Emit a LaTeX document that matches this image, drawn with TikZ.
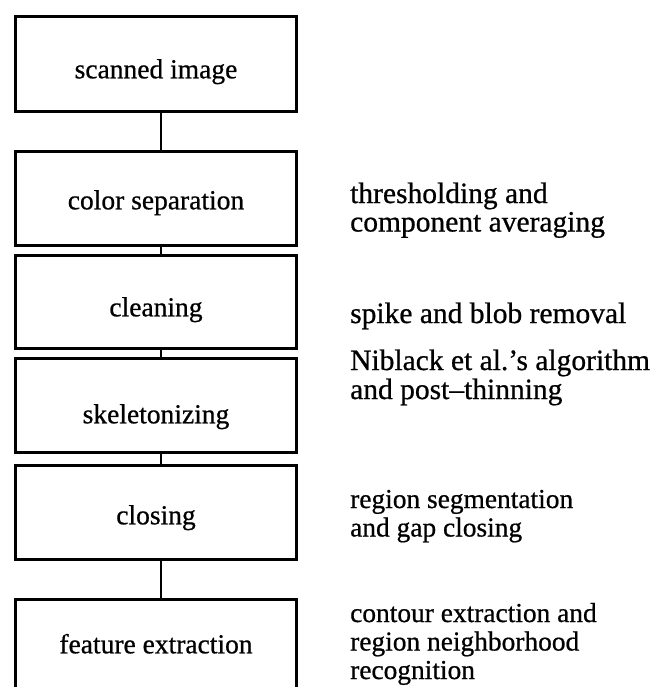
\documentclass[tikz,border=0pt]{standalone}
\usepackage{fontspec}
\setmainfont{Liberation Serif}[FakeBold=0.7]
\begin{document}
\begin{tikzpicture}[x=1pt,y=-1pt,
  box/.style={draw, line width=2.6pt, inner sep=0pt, minimum width=281pt, anchor=north,
    font=\fontsize{27.5}{29}\selectfont},
  notebig/.style={anchor=base west, inner sep=0pt, font=\fontsize{29.5}{28.5}\selectfont},
  notesmall/.style={anchor=base west, inner sep=0pt, font=\fontsize{27.4}{28.5}\selectfont},
  link/.style={line width=2.8pt}]
\useasboundingbox (0,0) rectangle (658,687);
\clip (0,0) rectangle (658,687);
% boxes
\node[box, text height=62pt, text depth=33pt] (b1) at (156,15) {scanned image};
\node[box, text height=58pt, text depth=36pt] (b2) at (156,150) {color separation};
\node[box, text height=61pt, text depth=32pt] (b3) at (156,254) {cleaning};
\node[box, text height=65pt, text depth=29pt] (b4) at (156,357) {skeletonizing};
\node[box, text height=59pt, text depth=35pt] (b5) at (156,464) {closing};
\node[box, text height=54pt, text depth=40pt] (b6) at (156,598) {feature extraction};
% connectors
\foreach \a/\b in {b1/b2,b2/b3,b3/b4,b4/b5,b5/b6}
  \draw[link] ([xshift=5pt]\a.south) -- ([xshift=5pt]\a.south |- \b.north);
% notes
\node[notebig] (n2) at (350,203) {\begin{tabular}[t]{@{}l@{}}thresholding and\\component averaging\end{tabular}};
\node[notebig] (n3) at (350,323) {spike and blob removal};
\node[notebig] (n4) at (350,370) {\begin{tabular}[t]{@{}l@{}}Niblack et al.'s algorithm\\and post--thinning\end{tabular}};
\node[notesmall] (n5) at (350,508) {\begin{tabular}[t]{@{}l@{}}region segmentation\\and gap closing\end{tabular}};
\node[notesmall] (n6) at (350,622) {\begin{tabular}[t]{@{}l@{}}contour extraction and\\region neighborhood\\recognition\end{tabular}};
\end{tikzpicture}
\end{document}
